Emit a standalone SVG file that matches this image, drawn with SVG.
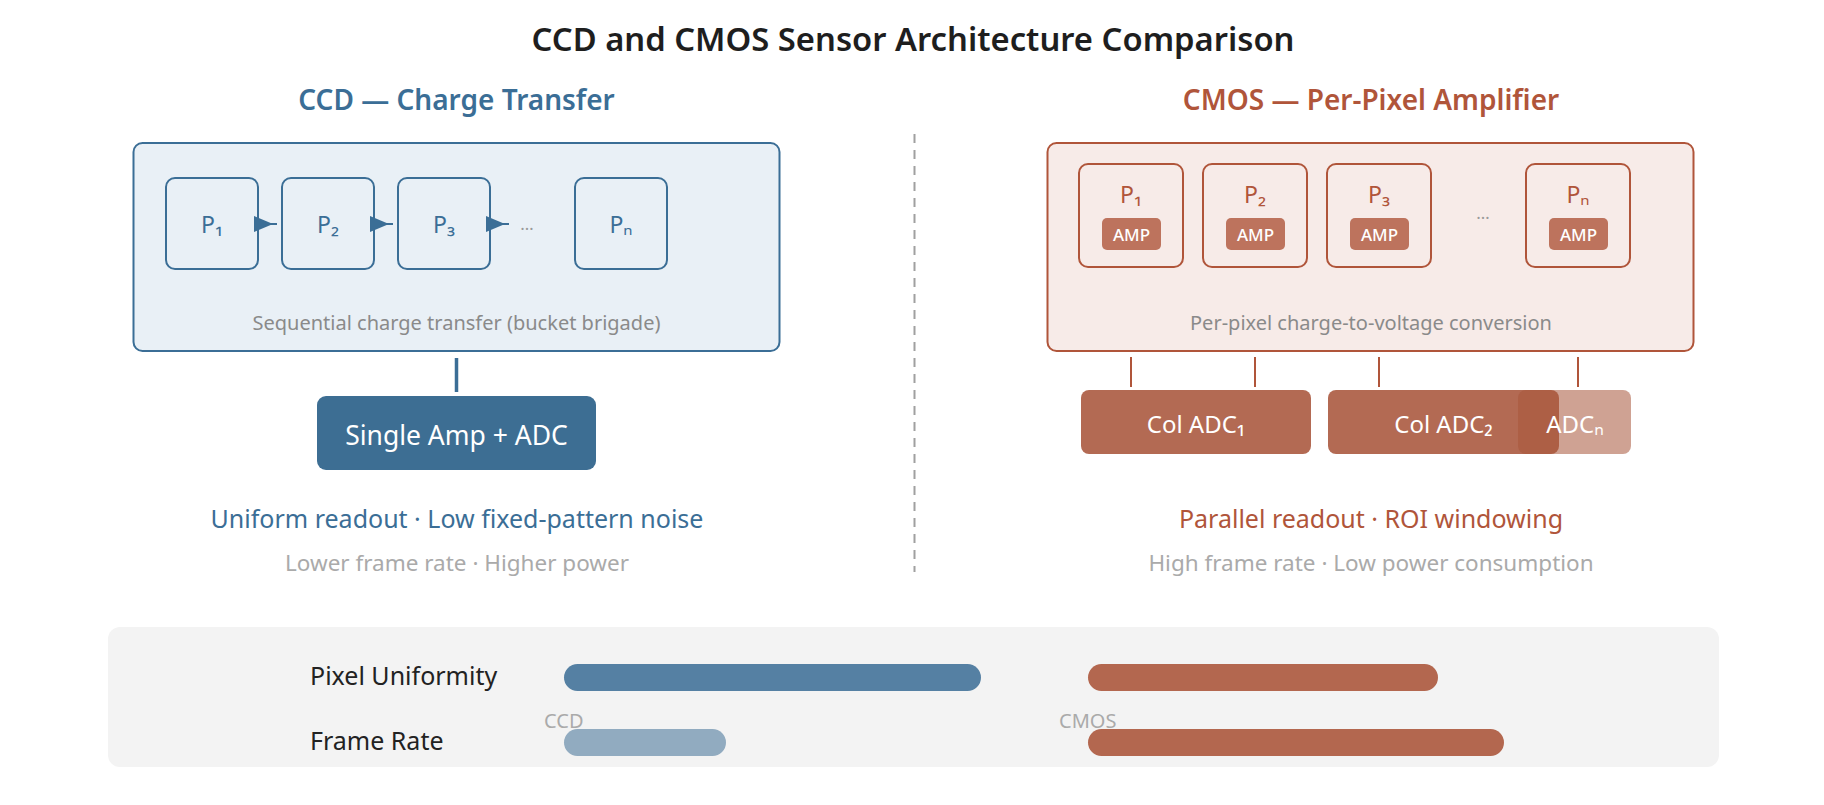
<svg xmlns="http://www.w3.org/2000/svg" width="1824" height="805" viewBox="0 0 1824 805">
  <defs>
    <marker id="tri" markerUnits="userSpaceOnUse" markerWidth="19" markerHeight="16" viewBox="0 0 19 16" refX="0" refY="8" orient="auto">
      <path d="M0,0 L19,8 L0,16 Z" fill="#3b6e96"/>
    </marker>
  </defs>
  <style>
    text { font-family: "Noto Sans", "Open Sans", "DejaVu Sans", sans-serif; }
    .title { font-size: 32px; font-weight: 600; fill: #1e1e1e; }
    .hdr { font-size: 28px; font-weight: 600; }
    .blue { fill: #3b6e96; }
    .rust { fill: #b0553a; }
    .panel-ccd { fill: #e9f0f6; stroke: #3b6e96; stroke-width: 2; }
    .panel-cmos { fill: #f7ebe8; stroke: #b0553a; stroke-width: 2; }
    .pix-ccd { fill: #e9f0f6; stroke: #3b6e96; stroke-width: 2; }
    .pix-cmos { fill: #f7ebe8; stroke: #b0553a; stroke-width: 2; }
    .plabel { font-size: 23px; text-anchor: middle; }
    .amp { fill: #bd735d; }
    .amptxt { font-size: 17px; font-weight: 500; fill: #ffffff; text-anchor: middle; }
    .note { font-size: 20px; fill: #8a8a8a; text-anchor: middle; }
    .dots { font-size: 17px; fill: #9a9a9a; text-anchor: middle; }
    .adc { fill: #a8553b; }
    .adctxt { font-size: 24px; fill: #ffffff; text-anchor: middle; }
    .feat { font-size: 25px; text-anchor: middle; }
    .sub { font-size: 22.5px; fill: #aaaaaa; text-anchor: middle; }
    .rowlbl { font-size: 25px; fill: #222222; }
    .barlbl { font-size: 20px; fill: #aaaaaa; }
    .conn-ccd { stroke: #3b6e96; fill: none; }
    .conn-cmos { stroke: #b0553a; stroke-width: 2; fill: none; }
  </style>
  <rect width="1824" height="805" fill="#ffffff"/>

  <text class="title" x="913" y="51" text-anchor="middle" textLength="763" lengthAdjust="spacingAndGlyphs">CCD and CMOS Sensor Architecture Comparison</text>

  <!-- CCD side -->
  <g id="ccd-header">
    <text class="hdr blue" x="456.5" y="110" text-anchor="middle">CCD — Charge Transfer</text>
  </g>
  <g id="ccd-array">
    <rect class="panel-ccd" x="133.5" y="143" width="646" height="208" rx="9"/>
    <text class="note" x="456.5" y="330">Sequential charge transfer (bucket brigade)</text>
  </g>
  <g id="ccd-p1">
    <rect class="pix-ccd" x="166" y="178" width="92" height="91" rx="9"/>
    <text class="plabel blue" x="212" y="233">P₁</text>
  </g>
  <g id="ccd-p2">
    <rect class="pix-ccd" x="282" y="178" width="92" height="91" rx="9"/>
    <text class="plabel blue" x="328" y="233">P₂</text>
  </g>
  <g id="ccd-p3">
    <rect class="pix-ccd" x="398" y="178" width="92" height="91" rx="9"/>
    <text class="plabel blue" x="444" y="233">P₃</text>
  </g>
  <g id="ccd-dots">
    <text class="dots" x="527" y="230">…</text>
  </g>
  <g id="ccd-pn">
    <rect class="pix-ccd" x="575" y="178" width="92" height="91" rx="9"/>
    <text class="plabel blue" x="621" y="233">Pₙ</text>
  </g>
  <g id="ccd-amp">
    <rect x="317" y="396" width="279" height="74" rx="9" fill="#3d6e93"/>
    <text x="456.5" y="445" font-size="26.5" fill="#ffffff" text-anchor="middle">Single Amp + ADC</text>
  </g>
  <g id="ccd-features">
    <text class="feat blue" x="457" y="528">Uniform readout · Low fixed-pattern noise</text>
    <text class="sub" x="457" y="571">Lower frame rate · Higher power</text>
  </g>

  <!-- Divider -->
  <line x1="914.5" y1="134" x2="914.5" y2="572" stroke="#a0a0a0" stroke-width="2" stroke-dasharray="9 7"/>

  <!-- CMOS side -->
  <g id="cmos-header">
    <text class="hdr rust" x="1371" y="110" text-anchor="middle">CMOS — Per-Pixel Amplifier</text>
  </g>
  <g id="cmos-array">
    <rect class="panel-cmos" x="1047.5" y="143" width="646" height="208" rx="9"/>
    <text class="note" x="1371" y="330">Per-pixel charge-to-voltage conversion</text>
  </g>
  <g id="cmos-p1">
    <rect class="pix-cmos" x="1079" y="164" width="104" height="103" rx="9"/>
    <text class="plabel rust" x="1131" y="203">P₁</text>
    <rect class="amp" x="1102" y="218" width="59" height="32" rx="5"/>
    <text class="amptxt" x="1131.5" y="241">AMP</text>
  </g>
  <g id="cmos-p2">
    <rect class="pix-cmos" x="1203" y="164" width="104" height="103" rx="9"/>
    <text class="plabel rust" x="1255" y="203">P₂</text>
    <rect class="amp" x="1226" y="218" width="59" height="32" rx="5"/>
    <text class="amptxt" x="1255.5" y="241">AMP</text>
  </g>
  <g id="cmos-p3">
    <rect class="pix-cmos" x="1327" y="164" width="104" height="103" rx="9"/>
    <text class="plabel rust" x="1379" y="203">P₃</text>
    <rect class="amp" x="1350" y="218" width="59" height="32" rx="5"/>
    <text class="amptxt" x="1379.5" y="241">AMP</text>
  </g>
  <g id="cmos-dots">
    <text class="dots" x="1483" y="219">…</text>
  </g>
  <g id="cmos-pn">
    <rect class="pix-cmos" x="1526" y="164" width="104" height="103" rx="9"/>
    <text class="plabel rust" x="1578" y="203">Pₙ</text>
    <rect class="amp" x="1549" y="218" width="59" height="32" rx="5"/>
    <text class="amptxt" x="1578.5" y="241">AMP</text>
  </g>
  <g id="cmos-adc1">
    <rect class="adc" x="1081" y="390" width="230" height="64" rx="8" opacity="0.88"/>
    <text class="adctxt" x="1196" y="433">Col ADC₁</text>
  </g>
  <g id="cmos-adc2">
    <rect class="adc" x="1328" y="390" width="231" height="64" rx="8" opacity="0.88"/>
    <text class="adctxt" x="1443.5" y="433">Col ADC₂</text>
  </g>
  <g id="cmos-adcn">
    <rect class="adc" x="1518" y="390" width="113" height="64" rx="8" opacity="0.55"/>
    <text class="adctxt" x="1575" y="433" font-size="19">ADCₙ</text>
  </g>
  <g id="cmos-features">
    <text class="feat rust" x="1371" y="528">Parallel readout · ROI windowing</text>
    <text class="sub" x="1371" y="571">High frame rate · Low power consumption</text>
  </g>

  <!-- Connectors -->
  <g id="connectors">
    <line class="conn-ccd" x1="254" y1="224" x2="277" y2="224" stroke-width="2" marker-start="url(#tri)"/>
    <line class="conn-ccd" x1="370" y1="224" x2="393" y2="224" stroke-width="2" marker-start="url(#tri)"/>
    <line class="conn-ccd" x1="486" y1="224" x2="509" y2="224" stroke-width="2" marker-start="url(#tri)"/>
    <line class="conn-ccd" x1="456.5" y1="358" x2="456.5" y2="392" stroke-width="3.5"/>
    <line class="conn-cmos" x1="1131" y1="357" x2="1131" y2="387"/>
    <line class="conn-cmos" x1="1255" y1="357" x2="1255" y2="387"/>
    <line class="conn-cmos" x1="1379" y1="357" x2="1379" y2="387"/>
    <line class="conn-cmos" x1="1578" y1="357" x2="1578" y2="387"/>
  </g>

  <!-- Comparison panel -->
  <g id="comparison">
    <rect x="108" y="627" width="1611" height="140" rx="12" fill="#f3f3f3"/>
    <text class="rowlbl" x="310" y="685">Pixel Uniformity</text>
    <text class="rowlbl" x="310" y="750">Frame Rate</text>
    <rect x="564" y="664" width="417" height="27" rx="13.5" fill="#5580a3"/>
    <rect x="1088" y="664" width="350" height="27" rx="13.5" fill="#b3674f"/>
    <rect x="564" y="729" width="162" height="27" rx="13.5" fill="#91abc0"/>
    <rect x="1088" y="729" width="416" height="27" rx="13.5" fill="#b3674f"/>
    <text class="barlbl" x="544" y="728">CCD</text>
    <text class="barlbl" x="1059" y="728">CMOS</text>
  </g>
</svg>
